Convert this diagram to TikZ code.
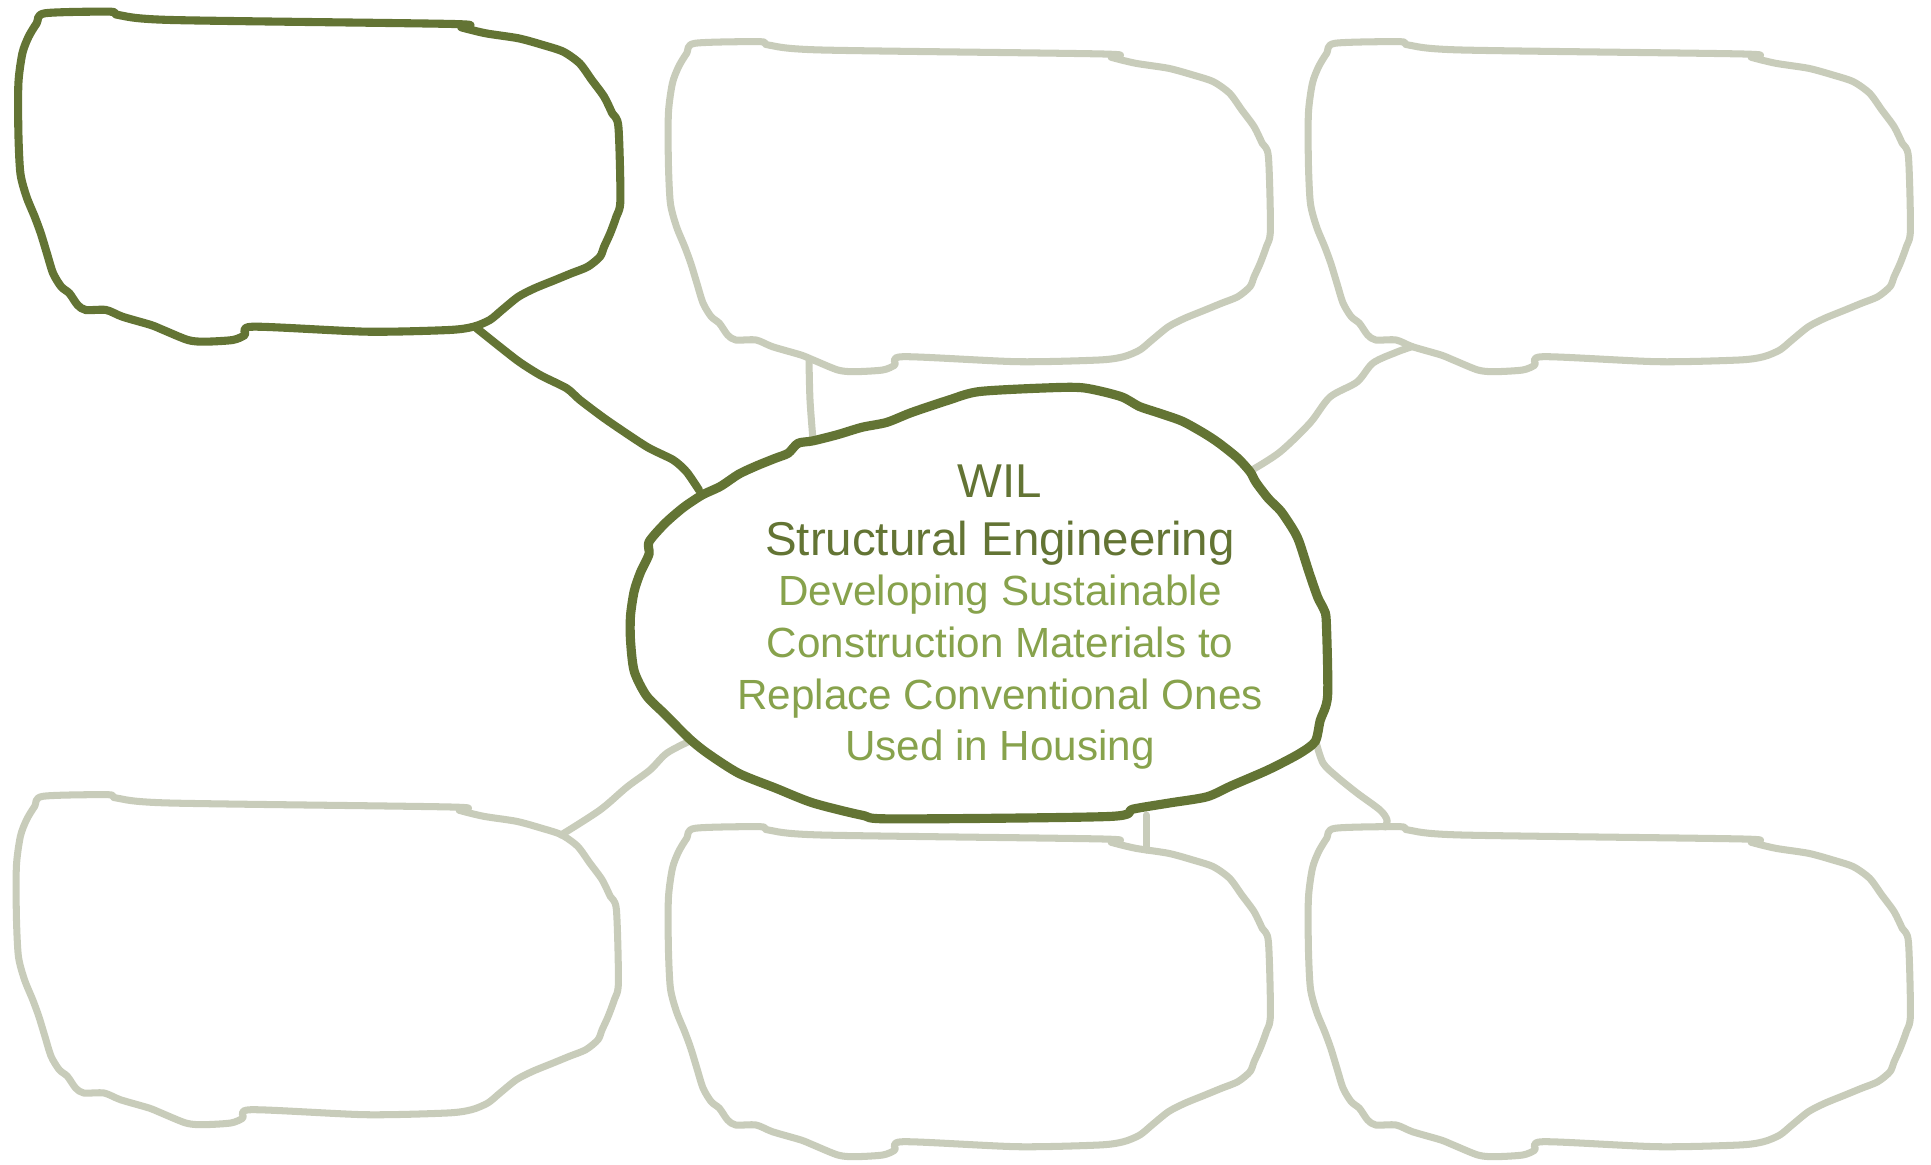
\documentclass[tikz,border=0pt]{standalone}
\usepackage{fontspec}
\setmainfont{Liberation Sans}
\usepackage{xcolor}
\usepackage{tikz}

\definecolor{daun}{HTML}{637434}
\definecolor{abu}{HTML}{C8CCBA}
\definecolor{hijau}{HTML}{87A24C}

% gelembung tangan: {nama}{geser}{gaya}
\newcommand{\gelembung}[3]{%
  \begin{scope}[shift={#2}]
    \draw[#3] plot[smooth cycle, tension=0.45] coordinates {
      (44.9,13.3) (110.2,11.7) (118.4,15) (171.4,20) (453.1,24) (461.2,27.3)
      (485.7,33.3) (518.4,38.3) (542.9,45) (563.3,51.7) (579.6,63.3) (591.8,80)
      (604.1,96.7) (612.2,113.3) (618.4,126.7) (620.4,200) (616.3,216.7)
      (610.2,233.3) (604.1,246.7) (600,256.7) (587.8,266.7) (571.4,273.3)
      (555.1,280) (534.7,288.3) (518.4,296.7) (502,310) (489.8,320) (473.5,326.7)
      (449,330) (367.3,331.7) (253.1,326.7) (244.9,335) (232.7,340) (204.1,341.7)
      (187.8,340) (163.3,330) (151,325) (122.4,316.7) (106.1,310) (85.7,310)
      (77.6,305) (69.4,293.3) (61.2,286.7) (53.1,273.3) (46.9,253.3) (40.8,233.3)
      (34.7,216.7) (26.5,196.7) (20.4,173.3) (18.4,133.3) (18.4,83.3) (22.4,53.3)
      (28.6,36.7) (36.7,23.3)};
    \node[inner sep=0pt, minimum width=6cm, minimum height=3.3cm] (#1) at (319,177) {};
  \end{scope}}

\begin{document}
\begin{tikzpicture}[x=0.01cm, y=-0.01cm,
    tebal/.style={draw=daun, line width=2.3pt, line join=round, line cap=round},
    pusatgaris/.style={draw=daun, line width=2.6pt, line join=round, line cap=round},
    tipis/.style={draw=abu, line width=2pt, line join=round, line cap=round},
    judul/.style={text=daun, inner sep=0pt, anchor=base, font=\fontsize{13.5}{16}\selectfont},
    isi/.style={text=hijau, inner sep=0pt, anchor=base, font=\fontsize{12}{14.5}\selectfont}]
  \useasboundingbox[fill=white] (0,0) rectangle (1931,1164);

  % titik sambung
  \coordinate (tl-j) at (476.7,328.3);   % bawah gelembung kiri atas
  \coordinate (tm-j) at (809,360);       % bawah gelembung tengah atas
  \coordinate (tr-j) at (1412,346.7);    % bawah gelembung kanan atas
  \coordinate (bl-j) at (561,835);       % atas gelembung kiri bawah
  \coordinate (bm-j) at (1146,850);      % atas gelembung tengah bawah
  \coordinate (br-j) at (1385,827);      % atas gelembung kanan bawah
  \coordinate (c-tl) at (699,490);       % tepi pusat
  \coordinate (c-tm) at (813,440);
  \coordinate (c-tr) at (1252,470);
  \coordinate (c-bl) at (692,740);
  \coordinate (c-bm) at (1146,815);
  \coordinate (c-br) at (1316,742);

  % gelembung pucat
  \gelembung{tm}{(650,30)}{tipis}
  \gelembung{tr}{(1290,30)}{tipis}
  \gelembung{bl}{(-2,783)}{tipis}
  \gelembung{bm}{(650,815)}{tipis}
  \gelembung{br}{(1290,815)}{tipis}

  % garis pucat
  \draw[tipis] plot[smooth] coordinates {(tm-j) (810,400) (c-tm)};
  \draw[tipis] plot[smooth] coordinates {(tr-j) (1397,352) (1373,363) (1357,382)
    (1330,397) (1310,423) (1280,452) (c-tr)};
  \draw[tipis] plot[smooth] coordinates {(bl-j) (600,810) (627,787) (650,770)
    (667,753) (c-bl)};
  \draw[tipis] (bm-j) -- (c-bm);
  \draw[tipis] plot[smooth] coordinates {(c-br) (1323,763) (1336,776)
    (1357,793) (1380,810) (1387,820) (br-j)};

  % gelembung gelap
  \gelembung{tl}{(0,0)}{tebal}
  \draw[tebal] plot[smooth, tension=0.4] coordinates {(tl-j) (516.7,360) (540,375)
    (566.7,388.3) (580,400) (606.7,420) (646.7,446.7) (673.3,460) (686.7,472) (c-tl)};

  % pusat
  \draw[pusatgaris] plot[smooth cycle, tension=0.45] coordinates {
    (1083.7,387.9) (1046.8,387.9) (979,391.6) (948.3,400.2) (911.3,412.6)
    (886.7,422.4) (862,427.3) (837.4,434.7) (812.8,440.9) (798,443.3)
    (788.2,453.2) (775.8,458.1) (757.4,465.5) (738.9,474.1) (720.4,486.4)
    (702,495.1) (683.5,507.4) (665,523.4) (649,541.9) (649,554.2) (640.4,572.6)
    (634.2,591.1) (630.5,615.8) (630.5,640.4) (634.2,671.2) (646.5,695.8)
    (665,714.3) (689.6,738.9) (708.1,753.7) (738.9,773.4) (775.8,788.2)
    (812.8,802.9) (862,815.2) (892.8,818.9) (1108.4,816.5) (1133,809.1)
    (1169.9,802.9) (1206.9,796.8) (1231.5,785.7) (1268.5,769.7) (1299.2,753.7)
    (1315.2,741.4) (1320.2,720.4) (1327.6,695.8) (1326.3,621.9) (1323.9,609.6)
    (1317.7,597.3) (1309.1,572.6) (1299.2,541.9) (1293.1,529.5) (1280.8,511.1)
    (1268.5,498.7) (1256.2,482.7) (1250,471.7) (1237.7,458.1) (1219.2,443.3)
    (1204.4,433.5) (1182.2,421.2) (1157.6,412.6) (1139.1,406.4) (1120.7,396.5)};

  % teks pusat
  \node (wil) [judul] at (1000,497) {WIL};
  \node (bidang) [judul] at (1000,555) {Structural Engineering};
  \node (topik1) [isi] at (1000,605) {Developing Sustainable};
  \node (topik2) [isi] at (1000,657) {Construction Materials to};
  \node (topik3) [isi] at (1000,709) {Replace Conventional Ones};
  \node (topik4) [isi] at (1000,760) {Used in Housing};
\end{tikzpicture}
\end{document}
